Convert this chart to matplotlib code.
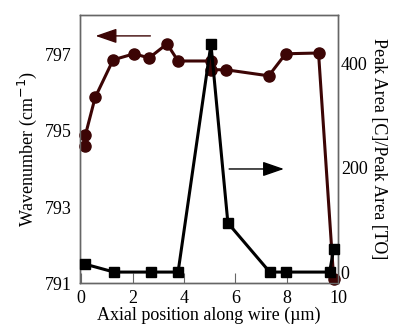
import matplotlib
matplotlib.use("Agg")
import matplotlib.pyplot as plt

# wavenumber (left axis, circles)
pos_wn = [0.16, 0.16, 0.54, 1.24, 2.06, 2.64, 3.34, 3.77, 5.05, 5.05, 5.63, 7.30, 7.96, 9.24, 9.83]
wavenumber = [794.60, 794.89, 795.88, 796.87, 797.03, 796.92, 797.29, 796.84,
              796.84, 796.61, 796.61, 796.45, 797.03, 797.05, 791.11]

# peak area ratio (right axis, squares)
pos_pa = [0.16, 1.28, 2.72, 3.77, 5.05, 5.71, 7.34, 7.96, 9.67, 9.83]
peak_ratio = [15, 0, 0, 0, 436, 94, 0, 0, 0, 44]

brown = "#3c0505"
plt.rcParams["font.family"] = ["Liberation Serif", "DejaVu Serif"]

fig = plt.figure(figsize=(3.94, 3.33), dpi=100)
ax = fig.add_axes([0.203, 0.150, 0.655, 0.805])
ax2 = ax.twinx()

ax.plot(pos_wn, wavenumber, "-o", color=brown, lw=2.2, ms=8, clip_on=False, zorder=3)
ax2.plot(pos_pa, peak_ratio, "-s", color="black", lw=2.2, ms=6.5, clip_on=False, zorder=3)

ax.set_xlim(-0.05, 10)
ax.set_ylim(791, 798.05)
ax2.set_ylim(-21, 492)
ax.set_xticks([0, 2, 4, 6, 8, 10])
ax.set_yticks([791, 793, 795, 797])
ax2.set_yticks([0, 200, 400])

ax.tick_params(axis="x", direction="in", length=7, labelsize=13, pad=5, color="#666666")
ax.tick_params(axis="y", length=0, labelsize=13, pad=6)
ax2.tick_params(axis="y", length=0, labelsize=13, pad=2)

for a in (ax, ax2):
    for s in a.spines.values():
        s.set_color("#666666")
        s.set_linewidth(1.0)

ax.set_xlabel("Axial position along wire (\u00b5m)", fontsize=13, labelpad=0)
ax.set_ylabel("Wavenumber (cm$^{-1}$)", fontsize=13, labelpad=4)
ax2.set_ylabel("Peak Area [C]/Peak Area [TO]", fontsize=13, rotation=-90, labelpad=14)

head = "-|>,head_length=1.3,head_width=0.45"
ax.annotate("", xy=(0.45, 797.5), xytext=(2.8, 797.5),
            arrowprops=dict(arrowstyle=head, color=brown, lw=1.0))
ax.annotate("", xy=(8.0, 794.0), xytext=(5.65, 794.0),
            arrowprops=dict(arrowstyle=head, color="black", lw=1.0))

fig.savefig("out.png", dpi=100)
